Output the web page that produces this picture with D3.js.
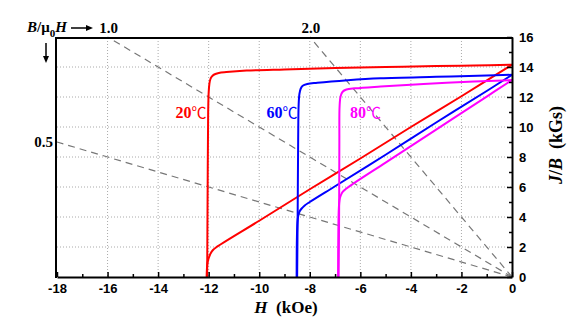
<!DOCTYPE html>
<html><head><meta charset="utf-8">
<script src="https://cdn.jsdelivr.net/npm/d3@7"></script>
<style>
html,body{margin:0;padding:0;background:#fff;}
svg{display:block;}
</style></head>
<body>
<svg id="chart" width="585" height="332"></svg>
<script>
// ---- data ----
const xTicks = [-18,-16,-14,-12,-10,-8,-6,-4,-2,0];
const yTicks = [0,2,4,6,8,10,12,14,16];
const permeance = [0.5, 1.0, 2.0];
const permeanceLabels = ["0.5","1.0","2.0"];
const temps = ["20","60","80"];
const colors = ["#ff0000","#0000ff","#ff00ff"];

// intrinsic curves J(H)
const redJ_H = [-12.06,-12.04,-12.02,-12.0,-11.97,-11.93,-11.87,-11.78,-11.6,-11.3,-10.5,-9,-7,-5,-3,-1.5,0];
const redJ   = [0,6,11,12.3,12.9,13.2,13.38,13.5,13.6,13.66,13.76,13.84,13.93,14.0,14.06,14.1,14.15];
const blueJ_H = [-8.5,-8.48,-8.46,-8.44,-8.41,-8.36,-8.28,-8.1,-7.7,-6.5,-5.2,-3,-1,0];
const blueJ   = [0,4,9,11.5,12.2,12.55,12.75,12.87,12.95,13.12,13.25,13.35,13.43,13.48];
const magJ_H = [-6.86,-6.84,-6.83,-6.82,-6.78,-6.7,-6.55,-6.2,-5.2,-3.5,-1.5,0];
const magJ   = [0,4,9,11.4,12.05,12.35,12.5,12.58,12.7,12.87,13.03,13.13];

// normal curves B(H)
const redB_H = [-12.08,-12.07,-12.05,-12.0,-11.93,-11.83,-11.7,-10,-8,-6,-4,-2,0];
const redB   = [0,0.5,0.9,1.25,1.55,1.8,1.98,3.75,5.85,7.9,10.0,12.05,14.15];
const blueB_H = [-8.52,-8.51,-8.49,-8.46,-8.41,-8.33,-8.2,-8.0,-7,-5,-3,-1,0];
const blueB   = [0,2.5,3.6,4.05,4.35,4.55,4.77,5.0,6.05,8.15,10.3,12.4,13.48];
const magB_H = [-6.88,-6.87,-6.85,-6.82,-6.77,-6.7,-6.55,-6.3,-5,-3,-1,0];
const magB   = [0,3,4.6,5.15,5.45,5.68,5.9,6.2,7.63,9.83,12.03,13.13];

// ---- drawing ----
const svg = d3.select("#chart");
const L = 57, R = 512, T = 37, B = 277;
const x = d3.scaleLinear().domain([-18,0]).range([L,R]);
const y = d3.scaleLinear().domain([0,16]).range([B,T]);

// grid
const g = svg.append("g");
g.selectAll("line.vg").data(xTicks.filter(v=>v>-18 && v<0)).enter().append("line")
  .attr("x1",d=>x(d)).attr("x2",d=>x(d)).attr("y1",T+1).attr("y2",B)
  .attr("stroke","#aaa").attr("stroke-width",1).attr("stroke-dasharray","1,2");
g.selectAll("line.hg").data(yTicks.filter(v=>v>0 && v<16)).enter().append("line")
  .attr("x1",L).attr("x2",R).attr("y1",d=>y(d)).attr("y2",d=>y(d))
  .attr("stroke","#aaa").attr("stroke-width",1).attr("stroke-dasharray","1,2");

// load lines
permeance.forEach((p,i)=>{
  const endH = (p*18 <= 16) ? -18 : -16/p;
  svg.append("line")
    .attr("x1",x(0)).attr("y1",y(0)).attr("x2",x(endH)).attr("y2",y(-endH*p))
    .attr("stroke","#777").attr("stroke-width",1.2).attr("stroke-dasharray","7,5");
});

// curves
const line = d3.line().x(d=>x(d[0])).y(d=>y(d[1])).curve(d3.curveCatmullRom.alpha(0.5));
const zip = (a,b)=>a.map((v,i)=>[v,b[i]]);
const series = [
  [redJ_H, redJ, 0],[redB_H, redB, 0],
  [blueJ_H, blueJ, 1],[blueB_H, blueB, 1],
  [magJ_H, magJ, 2],[magB_H, magB, 2]
];
series.forEach(s=>{
  svg.append("path").attr("d", line(zip(s[0],s[1])))
    .attr("fill","none").attr("stroke",colors[s[2]]).attr("stroke-width",2)
    .attr("stroke-linejoin","round");
});

// axes
const tickFont = "'Liberation Sans', Arial, sans-serif";
const xAxis = svg.append("g").attr("transform",`translate(0,${B})`)
  .call(d3.axisBottom(x).tickValues(xTicks).tickSizeInner(-5).tickSizeOuter(0).tickPadding(7).tickFormat(d3.format("d")));
const xMinor = svg.append("g").attr("transform",`translate(0,${B})`)
  .call(d3.axisBottom(x).tickValues(d3.range(-17,0,2)).tickSizeInner(-3).tickSizeOuter(0).tickFormat(""));
const yAxis = svg.append("g").attr("transform",`translate(${R},0)`)
  .call(d3.axisRight(y).tickValues(yTicks).tickSizeInner(-5).tickSizeOuter(0).tickPadding(7).tickFormat(d3.format("d")));
const yMinor = svg.append("g").attr("transform",`translate(${R},0)`)
  .call(d3.axisRight(y).tickValues(d3.range(1,16,2)).tickSizeInner(-3).tickSizeOuter(0).tickFormat(""));
[xAxis,xMinor,yAxis,yMinor].forEach(a=>{
  a.select(".domain").attr("stroke","#000").attr("stroke-width",2);
  a.selectAll(".tick line").attr("stroke","#000").attr("stroke-width",1.5);
  a.selectAll("text").attr("font-family",tickFont).attr("font-weight","bold").attr("font-size",13).attr("fill","#000");
});
xMinor.select(".domain").remove(); yMinor.select(".domain").remove();
xAxis.selectAll("text").text(d=>String(d));
yAxis.selectAll("text").text(d=>String(d));

// frame top & left
svg.append("line").attr("x1",L-1).attr("x2",R+1).attr("y1",T+1).attr("y2",T+1).attr("stroke","#000").attr("stroke-width",2);
svg.append("line").attr("x1",L-1).attr("x2",L-1).attr("y1",T).attr("y2",B+1).attr("stroke","#000").attr("stroke-width",2);

const serif = "'Liberation Serif','Times New Roman',serif";
// permeance labels
permeance.forEach((p,i)=>{
  if (p*18 <= 16) {
    svg.append("text").attr("x",L-4).attr("y",y(p*18)+5).attr("text-anchor","end")
      .attr("font-family",serif).attr("font-weight","bold").attr("font-size",15).text(permeanceLabels[i]);
  } else {
    svg.append("text").attr("x",x(-16/p)+1).attr("y",33).attr("text-anchor","middle")
      .attr("font-family",serif).attr("font-weight","bold").attr("font-size",15).text(permeanceLabels[i]);
  }
});
// B/μ0H label
const bl = svg.append("text").attr("x",27).attr("y",32).attr("font-family",serif).attr("font-weight","bold").attr("font-size",15);
bl.append("tspan").attr("font-style","italic").text("B");
bl.append("tspan").text("/μ");
bl.append("tspan").attr("font-size",11).attr("dy",5).text("0");
bl.append("tspan").attr("font-style","italic").attr("dy",-5).text("H");
// right arrow
svg.append("line").attr("x1",71).attr("x2",88).attr("y1",28).attr("y2",28).attr("stroke","#000").attr("stroke-width",1.5);
svg.append("path").attr("d","M86,25 L93,28 L86,31 Z").attr("fill","#000");
// down arrow
svg.append("line").attr("x1",46).attr("x2",46).attr("y1",43).attr("y2",58).attr("stroke","#000").attr("stroke-width",1.5);
svg.append("path").attr("d","M43,56 L46,63 L49,56 Z").attr("fill","#000");

// temperature labels
const labelPos = [[-12.7,11.0],[-9.1,11.0],[-5.8,11.0]];
temps.forEach((t,i)=>{
  const tx = svg.append("text").attr("x",x(labelPos[i][0])).attr("y",y(labelPos[i][1])+6)
    .attr("text-anchor","middle").attr("font-family",serif).attr("font-weight","bold")
    .attr("font-size",16).attr("fill",colors[i]);
  tx.append("tspan").text(t);
  tx.append("tspan").attr("font-family","'Noto Sans CJK SC'").attr("font-weight","normal").attr("font-size",15).text("℃");
});

// axis titles
const xt = svg.append("text").attr("x",286).attr("y",313).attr("text-anchor","middle")
  .attr("font-family",serif).attr("font-weight","bold").attr("font-size",17);
xt.append("tspan").attr("font-style","italic").text("H");
xt.append("tspan").text("\u00a0\u00a0(kOe)");
const yt = svg.append("text").attr("transform","translate(562,145) rotate(-90)").attr("text-anchor","middle")
  .attr("font-family",serif).attr("font-weight","bold").attr("font-size",18);
yt.append("tspan").attr("font-style","italic").text("J");
yt.append("tspan").text("/");
yt.append("tspan").attr("font-style","italic").text("B");
yt.append("tspan").text("\u00a0\u00a0(kGs)");
</script>
</body></html>
